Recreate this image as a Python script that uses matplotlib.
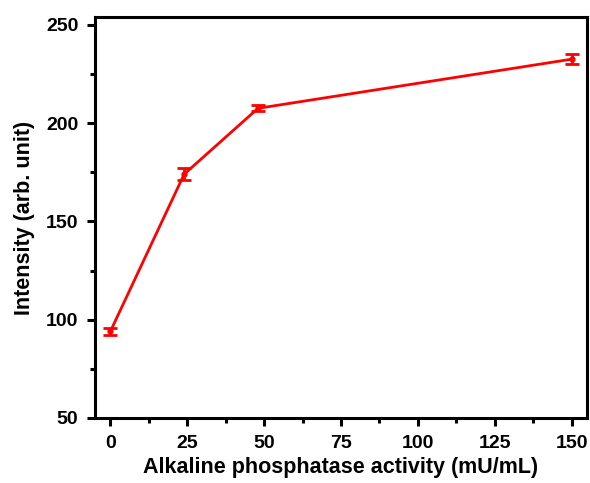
import numpy as np
import matplotlib.pyplot as plt
from matplotlib.ticker import MultipleLocator

activity = [0, 24, 48, 150]
intensity = [94, 174, 207.5, 232.5]
errors = [2.0, 3.0, 1.5, 2.5]

plt.rcParams["font.family"] = ["Liberation Sans", "DejaVu Sans"]
plt.rcParams["font.weight"] = "bold"

fig = plt.figure(figsize=(5.9, 4.83), dpi=100)
ax = fig.add_axes([0.161, 0.1346, 0.834, 0.8304])

ax.errorbar(activity, intensity, yerr=errors, color="red", lw=2.0,
            marker="o", ms=3.5, capsize=5, capthick=2.0, elinewidth=2.0)

ax.set_xlim(-5, 155)
ax.set_ylim(50, 254)
ax.set_xticks([0, 25, 50, 75, 100, 125, 150])
ax.set_yticks([50, 100, 150, 200, 250])
ax.xaxis.set_minor_locator(MultipleLocator(12.5))
ax.yaxis.set_minor_locator(MultipleLocator(25))

for s in ax.spines.values():
    s.set_linewidth(2.2)
ax.tick_params(which="major", direction="out", length=6, width=2.2,
               labelsize=14, pad=6)
ax.tick_params(which="minor", direction="out", length=3.5, width=2.2)

ax.set_xlabel("Alkaline phosphatase activity (mU/mL)", fontsize=15.5,
              fontweight="bold", labelpad=4)
ax.set_ylabel("Intensity (arb. unit)", fontsize=15.5, fontweight="bold",
              labelpad=8)

fig.savefig("out.png", dpi=100)
